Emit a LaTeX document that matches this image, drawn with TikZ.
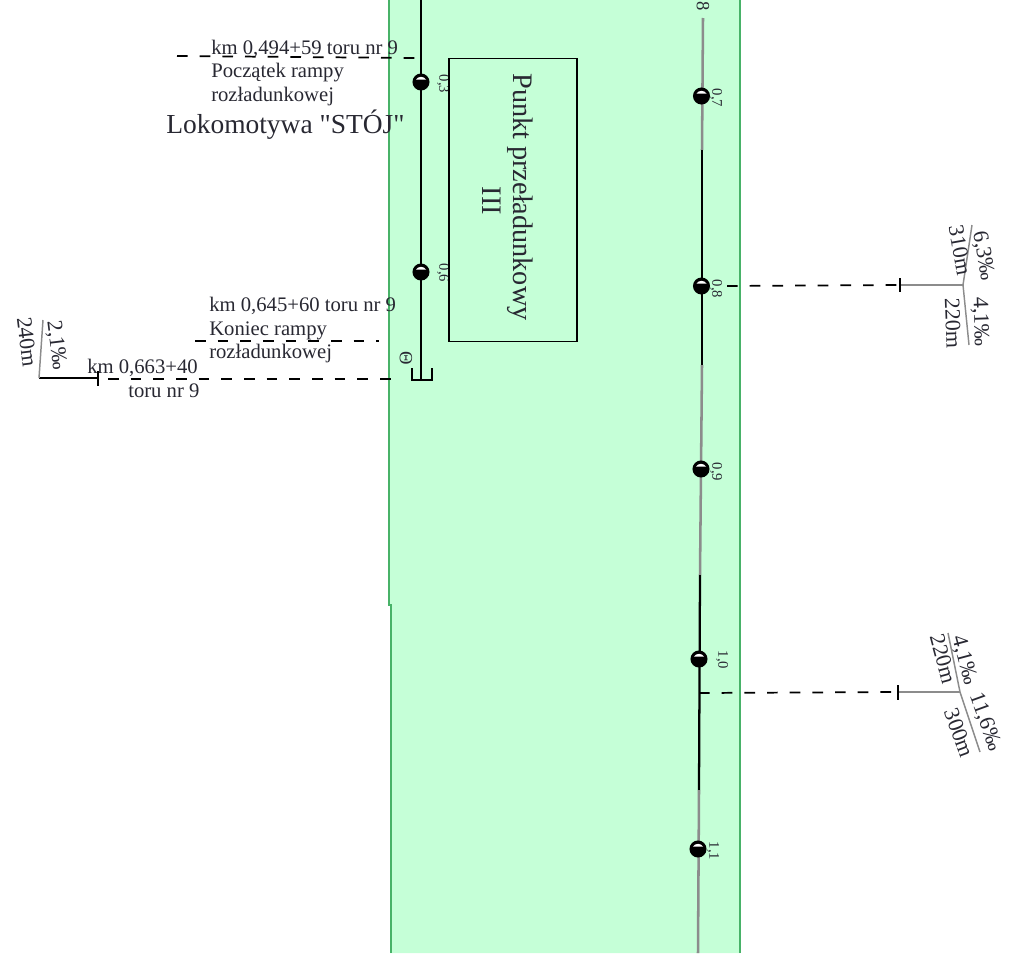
\documentclass[tikz,border=0pt]{standalone}
\usepackage{fontspec}
\setmainfont{Liberation Serif}
\newfontfamily\plainf{Liberation Serif}
\definecolor{band}{RGB}{197,255,215}
\definecolor{bandedge}{RGB}{72,178,104}
\definecolor{txt}{RGB}{40,40,50}
\definecolor{railgray}{RGB}{140,140,140}
\tikzset{
  lab/.style={inner sep=0pt,text=txt,anchor=west,font=\fontsize{15.5}{17}\selectfont},
  km/.style={inner sep=0pt,text=txt,rotate=-90,font=\fontsize{11}{12}\selectfont},
  grad/.style={inner sep=0pt,text=txt,font=\fontsize{16.5}{18}\selectfont},
  ink/.style={line width=1.7pt,black},
  gink/.style={line width=1.9pt,railgray},
  fine/.style={line width=1.1pt,railgray},
  dashline/.style={line width=1.3pt,black,dash pattern=on 8pt off 9pt},
  tickl/.style={line width=1.4pt,black},
}
\newcommand{\ballmark}[2]{%
  \fill[black] (#1,#2) circle[radius=6.4pt];
  \fill[white] (#1-5,#2-2.5) .. controls (#1-3,#2-6) and (#1+3,#2-6) .. (#1+5,#2-2.5) -- cycle;
}
\begin{document}
\begin{tikzpicture}[x=0.75pt,y=-0.75pt]
\useasboundingbox (0,0) rectangle (1024,953);
% green band
\fill[band] (388,0) -- (740,0) -- (740,953) -- (390,953) -- (390,605) -- (388,605) -- cycle;
\draw[bandedge,line width=1.5pt] (388.5,0) -- (388.5,605) -- (390.5,605) -- (390.5,953);
\draw[bandedge,line width=1.5pt] (739.5,0) -- (739.5,953);
% left track
\coordinate (ltop) at (421,0);
\coordinate (lbot) at (421,380);
\draw[ink] (ltop) -- (lbot);
\coordinate (ca) at (412,368);
\coordinate (cb) at (412,380);
\coordinate (cc) at (432,380);
\coordinate (cd) at (432,368);
\draw[ink] (ca) -- (cb) -- (cc) -- (cd);
% right track
\coordinate (r0) at (703,18);
\coordinate (r1) at (702,150);
\coordinate (r2) at (702,365);
\coordinate (r3) at (700,575);
\coordinate (r4) at (699,790);
\coordinate (r5) at (698,953);
\draw[gink] (r0) -- (r1);
\draw[ink] (r1) -- (r2);
\draw[gink] (r2) -- (r3);
\draw[ink] (r3) -- (r4);
\draw[gink] (r4) -- (r5);
% markers
\ballmark{421}{82}
\ballmark{421}{272}
\ballmark{701.5}{96}
\ballmark{701.5}{286}
\ballmark{701}{469}
\ballmark{699}{659}
\ballmark{698}{849}
% km labels
\node[km,font=\fontsize{14}{15}\selectfont] (k8) at (703,6) {8};
\node[km] (k07) at (716,98) {0,7};
\node[km] (k08) at (716,289) {0,8};
\node[km] (k09) at (716,472) {0,9};
\node[km] (k10) at (722,660) {1,0};
\node[km] (k11) at (713,851) {1,1};
\node[km] (k03) at (443,84) {0,3};
\node[km] (k06) at (443,273) {0,6};
\node[km,font=\fontsize{14}{15}\selectfont] (phi) at (406,358) {Θ};
% building
\node[draw=black,line width=1.3pt,minimum width=96pt,minimum height=212.25pt,inner sep=0pt] (pp) at (513,200) {};
\node[inner sep=0pt,rotate=-90,text=txt,font=\fontsize{21.2}{23}\selectfont] (pt) at (520,197) {Punkt przeładunkowy};
\node[inner sep=0pt,rotate=-90,text=txt,font=\fontsize{21.2}{23}\selectfont] (pt2) at (492,201) {III};
% left texts
\node[lab] (t1) at (211,49) {km 0,494+59 toru nr 9};
\node[lab] (t2) at (211,73) {Początek rampy};
\node[lab] (t3) at (211,96.5) {rozładunkowej};
\node[lab,font=\plainf\fontsize{20.6}{22}\selectfont] (t4) at (166,125) {Lokomotywa "STÓJ"};
\node[lab] (t5) at (209,306) {km 0,645+60 toru nr 9};
\node[lab] (t6) at (209,331) {Koniec rampy};
\node[lab] (t7) at (209,354) {rozładunkowej};
\node[lab] (t8) at (87,368) {km 0,663+40};
\node[lab] (t9) at (128,391) {toru nr 9};
% dashed
\coordinate (d1a) at (177,56);
\coordinate (d1b) at (415,58);
\draw[dashline] (d1a) -- (d1b);
\coordinate (d2a) at (195,341);
\coordinate (d2b) at (379,341);
\draw[dashline] (d2a) -- (d2b);
\coordinate (d3a) at (108,379);
\coordinate (d3b) at (394,379);
\draw[dashline] (d3a) -- (d3b);
\coordinate (d4a) at (727,286);
\coordinate (d4b) at (900,285);
\draw[dashline] (d4a) -- (d4b);
\coordinate (d5a) at (699,693);
\coordinate (d5b) at (898,692);
\draw[dashline] (d5a) -- (d5b);
% grade change left
\coordinate (g1) at (39,378);
\coordinate (g1t) at (98,378);
\draw[tickl] (g1) -- (g1t);
\draw[tickl] (98,371) -- (98,386);
\coordinate (g1s) at (43,320);
\draw[fine] (g1) -- (g1s);
\node[grad,rotate=-83] (g1a) at (56,345) {2,1‰};
\node[grad,rotate=-83] (g1b) at (27,342) {240m};
% grade change right 1
\coordinate (g2) at (963,285);
\coordinate (g2u) at (972,225);
\coordinate (g2d) at (969,345);
\draw[fine] (d4b) -- (g2);
\draw[fine] (g2u) -- (g2) -- (g2d);
\draw[tickl] (900,278) -- (900,292);
\node[grad,rotate=-80] (g2a) at (983,256) {6,3‰};
\node[grad,rotate=-80] (g2b) at (960,250) {310m};
\node[grad,rotate=-88] (g2c) at (980,322) {4,1‰};
\node[grad,rotate=-88] (g2e) at (953,323) {220m};
% grade change right 2
\coordinate (g3) at (960,692);
\coordinate (g3u) at (948,633);
\coordinate (g3d) at (980,752);
\draw[fine] (d5b) -- (g3);
\draw[fine] (g3u) -- (g3) -- (g3d);
\draw[tickl] (898,685) -- (898,700);
\node[grad,rotate=-75] (g3a) at (964,660) {4,1‰};
\node[grad,rotate=-75] (g3b) at (943,659) {220m};
\node[grad,rotate=-70] (g3c) at (985,722) {11,6‰};
\node[grad,rotate=-70] (g3e) at (959,733) {300m};
\end{tikzpicture}
\end{document}
